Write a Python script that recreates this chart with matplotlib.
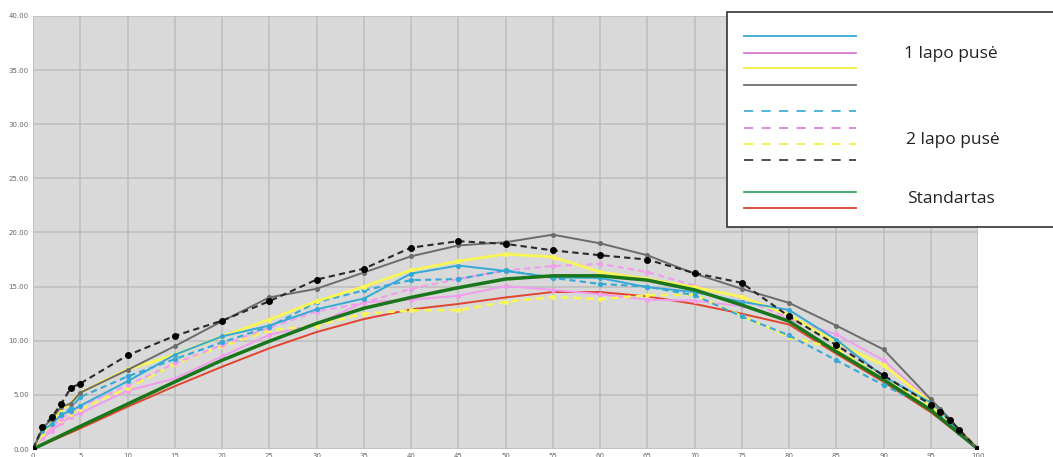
import numpy as np
import matplotlib
matplotlib.use('Agg')
import matplotlib.pyplot as plt
from matplotlib.patches import Rectangle

# x positions of the measurements
x = [0, 1, 2, 3, 4, 5, 10, 15, 20, 25, 30, 35, 40, 45, 50, 55, 60, 65, 70,
     75, 80, 85, 90, 95, 96, 97, 98, 100]

# 1 lapo puse (solid)
blue1 = [0, 1.7, 2.3, 3.2, 3.5, 4.0, 6.25, 8.7, 10.4, 11.4, 12.9, 13.9, 16.2,
         16.95, 16.45, 15.85, 15.8, 14.95, 14.5, 13.6, 12.85, 10.1, 6.7, 4.3,
         3.5, 2.6, 1.7, 0]
pink1 = [0, 1.0, 1.7, 2.4, 3.0, 3.3, 5.4, 6.5, 8.55, 10.55, 11.55, 13.55, 13.8,
         14.15, 15.05, 14.7, 14.3, 13.8, 13.7, 13.2, 12.0, 10.6, 8.2, 4.4,
         3.5, 2.6, 1.7, 0]
yellow1 = [0, 1.4, 2.4, 3.7, 4.2, 5.2, 7.35, 8.7, 10.4, 11.95, 13.65, 15.0,
           16.5, 17.35, 18.0, 17.75, 16.35, 15.7, 14.95, 14.05, 12.4, 9.8,
           7.75, 4.3, 3.5, 2.7, 1.8, 0]
gray1 = [0, 1.9, 2.8, 3.9, 4.2, 5.2, 7.3, 9.5, 11.8, 14.0, 14.8, 16.3, 17.8,
         18.8, 19.1, 19.8, 19.0, 17.9, 16.2, 14.8, 13.5, 11.4, 9.2, 4.6, 3.7,
         2.8, 1.8, 0]

# 2 lapo puse (dashed)
blue2 = [0, 1.6, 2.6, 3.1, 3.8, 4.8, 6.7, 8.3, 9.85, 11.3, 13.55, 14.65, 15.6,
         15.7, 16.5, 15.8, 15.25, 15.0, 14.2, 12.25, 10.5, 8.2, 5.9, 3.8, 3.0,
         2.3, 1.5, 0]
pink2 = [0, 1.2, 2.0, 2.8, 3.4, 3.9, 5.9, 7.9, 9.6, 11.2, 12.7, 13.5, 14.8,
         15.7, 16.5, 16.9, 17.1, 16.35, 15.1, 13.9, 12.1, 9.8, 6.8, 4.2, 3.4,
         2.6, 1.7, 0]
yellow2 = [0, 1.3, 2.0, 2.7, 3.2, 3.7, 5.6, 7.85, 9.5, 10.95, 11.4, 12.5,
           12.8, 12.83, 13.6, 14.05, 13.85, 14.2, 14.25, 12.3, 10.35, 9.3, 6.5,
           4.0, 3.2, 2.4, 1.6, 0]
black2 = [0, 2.0, 2.95, 4.2, 5.65, 6.05, 8.65, 10.45, 11.85, 13.65, 15.65,
          16.65, 18.6, 19.2, 18.95, 18.35, 17.9, 17.5, 16.25, 15.35, 12.25,
          9.6, 6.8, 4.1, 3.4, 2.7, 1.8, 0]

# Standartas
x_std = [0, 5, 10, 15, 20, 25, 30, 35, 40, 45, 50, 55, 60, 65, 70, 75, 80,
         85, 90, 95, 100]
green_std = [0, 2.1, 4.15, 6.2, 8.2, 9.95, 11.6, 13.0, 14.0, 14.9, 15.7, 16.0,
             16.0, 15.6, 14.7, 13.3, 11.8, 9.0, 6.4, 3.6, 0]
red_std = [0, 1.9, 3.9, 5.8, 7.6, 9.3, 10.8, 12.0, 12.9, 13.4, 14.0, 14.5,
           14.5, 14.1, 13.4, 12.5, 11.5, 8.8, 6.2, 3.4, 0]

x_ticks = list(range(0, 101, 5))
y_ticks = [0, 5, 10, 15, 20, 25, 30, 35, 40]

c_blue = '#35a9d6'
c_pink = '#f29cee'
c_yellow = '#f8f655'
c_gray = '#6c6c6c'
c_black = '#2a2a2a'
c_green = '#1a761a'
c_red = '#e2452f'

W, H = 1053, 457
fig = plt.figure(figsize=(W / 100, H / 100), dpi=100)
ax = fig.add_axes([33 / W, (H - 449) / H, 945 / W, 433 / H])
ax.set_facecolor('#d9d9d9')

dash = (0, (3, 2))
ax.plot(x_std, red_std, color=c_red, lw=1.4, zorder=3)
ax.plot(x, pink1, color=c_pink, lw=1.4, marker='o', ms=2.6, zorder=4)
ax.plot(x, yellow2, color=c_yellow, lw=1.8, ls=dash, marker='o', ms=2.6, zorder=4)
ax.plot(x, pink2, color=c_pink, lw=1.5, ls=dash, marker='o', ms=2.6, zorder=4)
ax.plot(x, blue2, color=c_blue, lw=1.5, ls=dash, marker='o', ms=2.8, zorder=4)
ax.plot(x, yellow1, color=c_yellow, lw=2.0, marker='o', ms=2.8, zorder=4)
ax.plot(x, blue1, color=c_blue, lw=1.4, marker='o', ms=2.6, zorder=5)
ax.plot(x_std, green_std, color=c_green, lw=2.5, zorder=6)
ax.plot(x, gray1, color=c_gray, lw=1.4, marker='o', ms=2.6, zorder=6)
ax.plot(x, black2, color=c_black, lw=1.5, ls=dash, marker='o', ms=4,
        mfc='black', mec='black', zorder=7)

ax.set_xlim(0, 100)
ax.set_ylim(0, 40)
ax.set_xticks(x_ticks)
ax.set_yticks(y_ticks)
ax.set_yticklabels(['%.2f' % v for v in y_ticks])
ax.set_xticklabels([str(v) for v in x_ticks])
ax.tick_params(length=0, labelsize=5, labelcolor='#666666', pad=3)
ax.grid(True, color='#bdbdbd', lw=1.1)
ax.set_axisbelow(True)
for s in ax.spines.values():
    s.set_visible(False)

# legend box drawn in pixel coordinates
lg = fig.add_axes([0, 0, 1, 1], zorder=10)
lg.set_xlim(0, W)
lg.set_ylim(H, 0)
lg.axis('off')
lg.add_patch(Rectangle((727, 12), 340, 215, facecolor='white',
                       edgecolor='#333333', lw=1.2))
leg_dash = (0, (5.5, 5.0))
for yy, c in zip([36, 53, 68, 85], [c_blue, '#d77ad4', '#f2ee3a', '#707070']):
    lg.plot([744, 856], [yy, yy], color=c, lw=1.3)
for yy, c in zip([111, 128, 144, 160], [c_blue, '#d77ad4', '#f2ee3a', '#303030']):
    lg.plot([744, 856], [yy, yy], color=c, lw=1.2, ls=leg_dash)
lg.plot([744, 856], [192, 192], color='#3aa864', lw=1.3)
lg.plot([744, 856], [208, 208], color=c_red, lw=1.3)
lg.text(904, 54, '1 lapo pusė', fontsize=12.5, family='Open Sans',
        color='#222222', va='center')
lg.text(906, 140, '2 lapo pusė', fontsize=12.5, family='Open Sans',
        color='#222222', va='center')
lg.text(907, 199, 'Standartas', fontsize=12.5, family='Open Sans',
        color='#222222', va='center')

fig.savefig('out.png', dpi=100)
